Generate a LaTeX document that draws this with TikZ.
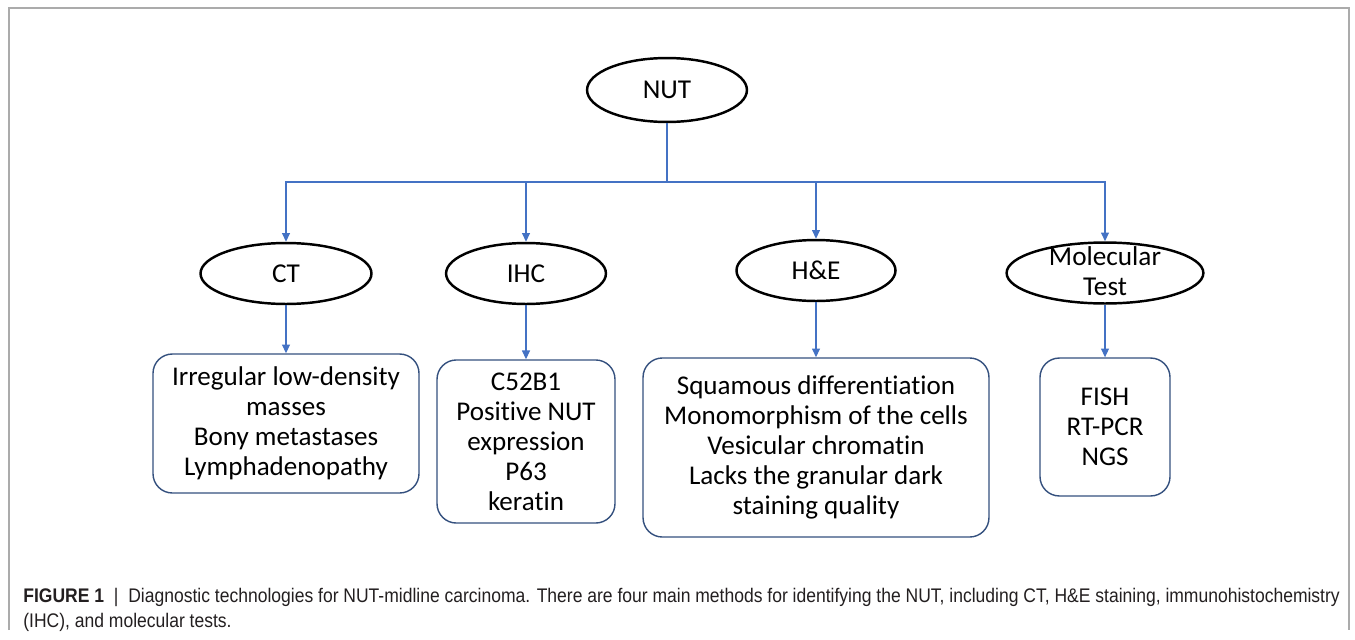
\documentclass[tikz,border=0pt]{standalone}
\usepackage{fontspec}
\setmainfont{Carlito}[Ligatures=CommonOff]
\newfontfamily\captionfont[FakeStretch=0.89]{Liberation Sans}
\usetikzlibrary{arrows.meta,shapes.geometric}
\definecolor{linkblue}{HTML}{4472C4}
\definecolor{boxblue}{HTML}{34507E}
\definecolor{framegray}{HTML}{ABABAB}
\definecolor{captiontext}{HTML}{231F20}

\begin{document}
\begin{tikzpicture}[x=0.02cm, y=-0.02cm]
        \tikzstyle Frame Line=[color=framegray, line width=0.8pt]
        \tikzstyle Link Line=[color=linkblue, line width=0.7pt]
        \tikzstyle Link Arrow=[Link Line, -{Triangle[length=5pt, width=4.5pt]}]
        \tikzstyle Method Ellipse=[ellipse, draw, line width=1.4pt, inner sep=0pt, font=\fontsize{15.5}{17}\selectfont]
        \tikzstyle Detail Box=[draw=boxblue, line width=0.8pt, rounded corners=11pt, align=center, inner sep=0pt, font=\fontsize{15.4}{17.1}\selectfont]

        \useasboundingbox (0, 0) rectangle (1355, 639);
        \draw[Frame Line] (9, 630) -- (9, 8) -- (1349, 8) -- (1349, 630);

        \node[Method Ellipse, minimum width=91pt, minimum height=36.4pt] (nut) at (667, 90) {NUT};
        \node[Method Ellipse, minimum width=97.3pt, minimum height=34.7pt] (ct) at (286, 273.5) {CT};
        \node[Method Ellipse, minimum width=91pt, minimum height=34.7pt] (ihc) at (526, 273.5) {IHC};
        \node[Method Ellipse, minimum width=90.5pt, minimum height=34.7pt] (he) at (816, 270.5) {H\&E};
        \node[Method Ellipse, minimum width=112pt, minimum height=34.7pt] (mol) at (1105, 273)
                {\raisebox{-8.5pt}{\smash{\begin{tabular}{@{}c@{}}Molecular\\Test\end{tabular}}}};

        \node[Detail Box, minimum width=151.4pt, minimum height=79.1pt] (ctbox) at (286, 423.5)
                {Irregular low-density\\masses\\Bony metastases\\Lymphadenopathy};
        \node[Detail Box, minimum width=101.3pt, minimum height=92.8pt] (ihcbox) at (526, 441.5)
                {C52B1\\Positive NUT\\expression\\P63\\keratin};
        \node[Detail Box, minimum width=196.9pt, minimum height=101.9pt] (hebox) at (816, 447.5)
                {Squamous differentiation\\Monomorphism of the cells\\Vesicular chromatin\\Lacks the granular dark\\staining quality};
        \node[Detail Box, minimum width=74pt, minimum height=78.5pt] (molbox) at (1105, 427)
                {FISH\\RT-PCR\\NGS};

        \coordinate (bus) at (667, 182);
        \draw[Link Line] (nut) -- (bus);
        \draw[Link Arrow] (bus) -| (ct);
        \draw[Link Arrow] (bus) -| (ihc);
        \draw[Link Arrow] (bus) -| (he);
        \draw[Link Arrow] (bus) -| (mol);

        \draw[Link Arrow] (ct) -- (ctbox);
        \draw[Link Arrow] (ihc) -- (ihcbox);
        \draw[Link Arrow] (he) -- (hebox);
        \draw[Link Arrow] (mol) -- (molbox);

        \node[anchor=north west, align=left, text=captiontext, inner sep=0pt,
              font=\captionfont\fontsize{11.2}{14}\selectfont] (caption) at (23, 588)
                {\textbf{FIGURE 1}\enspace\textbar\enspace Diagnostic technologies for NUT-midline carcinoma. There are four main methods for identifying the NUT, including CT, H\&E staining, immunohistochemistry\\(IHC), and molecular tests.};
\end{tikzpicture}
\end{document}
